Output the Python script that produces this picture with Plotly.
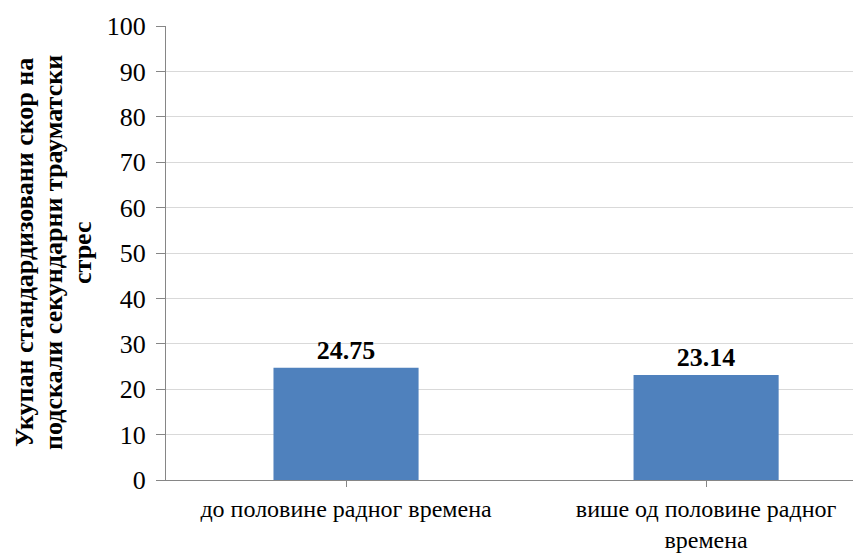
import plotly.graph_objects as go

categories = ["до половине радног времена", "више од половине радног<br>времена"]
values = [24.75, 23.14]
value_labels = ["24.75", "23.14"]
y_ticks = [0, 10, 20, 30, 40, 50, 60, 70, 80, 90, 100]
y_title_lines = ["Укупан стандардизовани скор на",
                 "подскали секундарни трауматски",
                 "стрес"]

FONT = "Liberation Serif"

fig = go.Figure(go.Bar(
    x=[0, 1],
    y=values,
    width=0.403,
    marker=dict(color="#4F81BD", line=dict(width=0)),
    text=["<b>%s</b>" % t for t in value_labels],
    textposition="outside",
    textfont=dict(family=FONT, size=26, color="black"),
    cliponaxis=False,
))

fig.update_layout(
    width=853, height=553,
    margin=dict(l=166, r=0, t=26, b=73),
    plot_bgcolor="white", paper_bgcolor="white",
    showlegend=False,
    font=dict(family=FONT, color="black"),
)
fig.update_xaxes(
    range=[-0.5, 1.408],
    automargin=False,
    tickmode="array", tickvals=[0, 1], ticktext=categories,
    tickfont=dict(family=FONT, size=24, color="black"),
    ticklabelstandoff=1,
    showline=True, linecolor="#868686", linewidth=1,
    ticks="outside", ticklen=6, tickcolor="#868686",
    tickson="boundaries",
    showgrid=False, zeroline=False,
)
fig.update_yaxes(
    range=[0, 100],
    automargin=False,
    tickmode="array", tickvals=y_ticks,
    tickfont=dict(family=FONT, size=26, color="black"),
    ticklabelstandoff=5,
    showline=True, linecolor="#868686", linewidth=1,
    ticks="outside", ticklen=9, tickcolor="#868686",
    showgrid=True, gridcolor="#D9D9D9", gridwidth=1,
    zeroline=False,
)

title_shifts = [-142, -113, -84]
for line, sh in zip(y_title_lines, title_shifts):
    fig.add_annotation(
        text="<b>" + line + "</b>", textangle=-90,
        xref="paper", yref="paper", x=0, y=0.5, xshift=sh,
        xanchor="center", yanchor="middle", showarrow=False,
        font=dict(family=FONT, size=26, color="black"),
    )

fig.write_html("out.html")
